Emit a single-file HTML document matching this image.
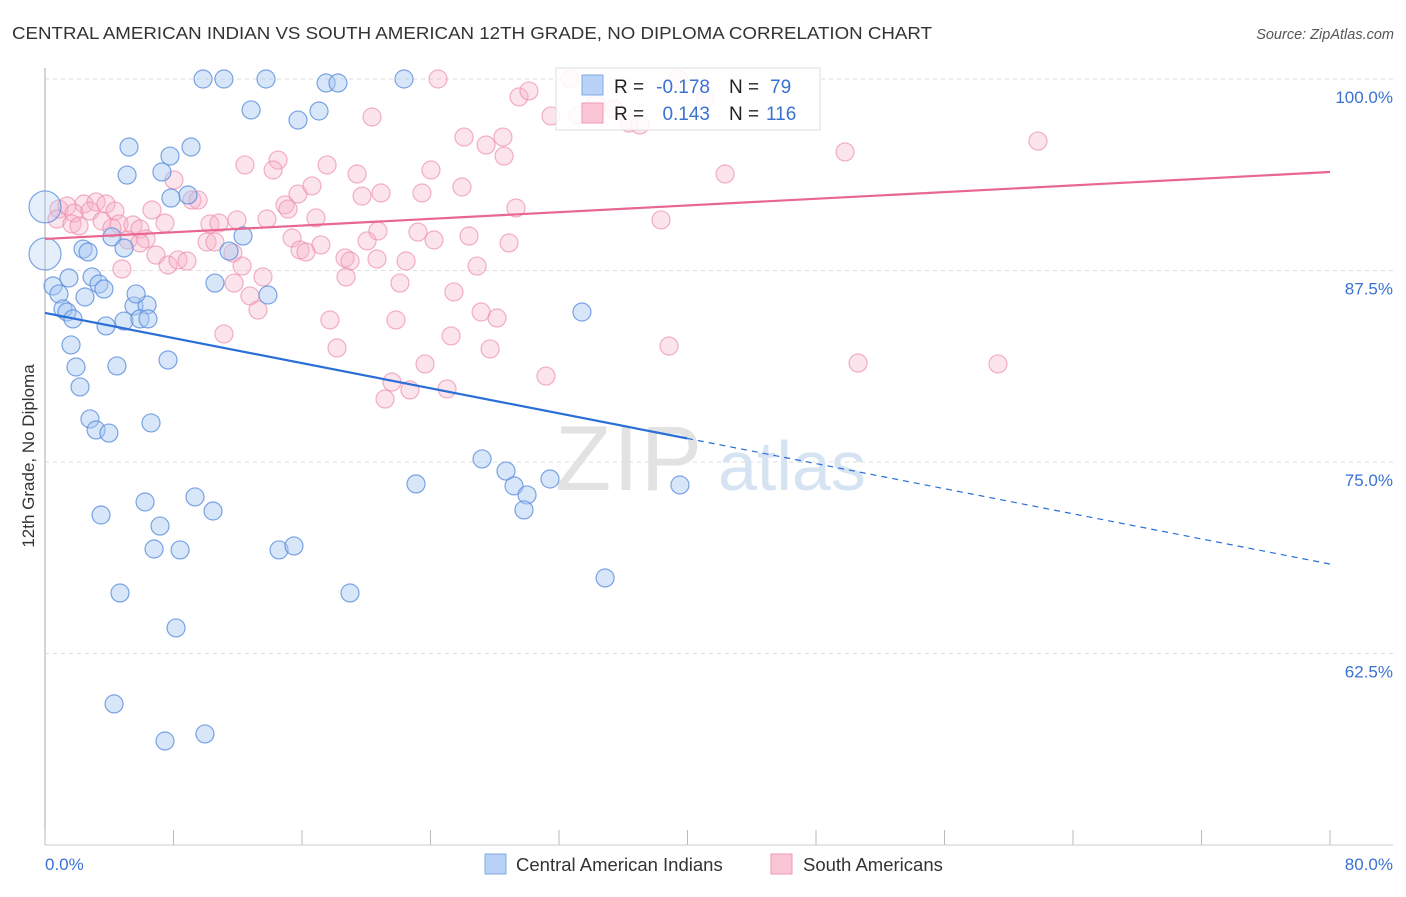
<!DOCTYPE html>
<html><head><meta charset="utf-8"><style>
body{margin:0;background:#fff;font-family:"Liberation Sans",sans-serif}
svg text{font-family:"Liberation Sans",sans-serif}
</style></head><body>
<svg id="chart" width="1406" height="892" xmlns="http://www.w3.org/2000/svg">
<text x="12" y="39" font-size="17.5" fill="#333" textLength="920" lengthAdjust="spacingAndGlyphs">CENTRAL AMERICAN INDIAN VS SOUTH AMERICAN 12TH GRADE, NO DIPLOMA CORRELATION CHART</text>
<text x="1394" y="39" font-size="14.5" fill="#555" text-anchor="end" font-style="italic">Source: ZipAtlas.com</text>
<text transform="translate(34,456) rotate(-90)" font-size="17" fill="#333" text-anchor="middle">12th Grade, No Diploma</text>
<g id="grid"></g>
<g>
<text x="555" y="490" font-size="92" fill="#e2e2e2" font-family="Liberation Serif" letter-spacing="2">ZIP</text>
<text x="718" y="490" font-size="70" fill="#d6e3f3">atlas</text>
</g>
<g id="pts"></g>
<g id="trend"></g>
<g>
<rect x="556" y="68" width="264" height="62" fill="#fff" fill-opacity="0.85" stroke="#ddd"/>
<rect x="582" y="75" width="21" height="20" fill="#b9d3f7" stroke="#7fa9e6"/>
<rect x="582" y="103" width="21" height="20" fill="#fac5d5" stroke="#ee9ab5"/>
<text x="614" y="93" font-size="19" fill="#222">R =</text>
<text x="710" y="93" font-size="19" fill="#3a72d2" text-anchor="end">-0.178</text>
<text x="729" y="93" font-size="19" fill="#222">N =</text>
<text x="770" y="93" font-size="19" fill="#3a72d2">79</text>
<text x="614" y="120" font-size="19" fill="#222">R =</text>
<text x="710" y="120" font-size="19" fill="#3a72d2" text-anchor="end">0.143</text>
<text x="729" y="120" font-size="19" fill="#222">N =</text>
<text x="766" y="120" font-size="19" fill="#3a72d2">116</text>
</g>
<g>
<rect x="485" y="854" width="21" height="20" fill="#b9d3f7" stroke="#7fa9e6"/>
<text x="516" y="871" font-size="18.5" fill="#333">Central American Indians</text>
<rect x="771" y="854" width="21" height="20" fill="#fac5d5" stroke="#ee9ab5"/>
<text x="803" y="871" font-size="18.5" fill="#333">South Americans</text>
</g>
</svg>
<script>
const xTickLabels=["0.0%","80.0%"];
const yTicks=[100,87.5,75,62.5];
const yTickLabels=["100.0%","87.5%","75.0%","62.5%"];
const blueX=[9.84,11.14,13.76,17.5,18.24,22.35,12.83,15.75,17.06,5.23,9.09,7.78,5.11,7.28,8.9,7.84,0,0,12.33,4.17,4.92,2.37,2.68,11.46,0.5,1.49,2.93,3.36,0.87,3.67,10.58,13.88,2.49,5.54,6.35,5.67,1.12,1.37,1.74,4.92,5.91,6.41,3.8,1.62,1.93,4.48,7.66,2.18,33.43,2.8,3.18,3.98,6.6,27.21,28.7,23.1,29.2,30.01,31.44,39.53,29.82,6.23,9.34,3.49,10.46,7.16,6.79,8.41,14.57,15.5,34.87,4.67,18.99,8.16,4.3,7.47,9.96];
const blueY=[100,100,100,99.74,99.74,100,97.98,97.32,97.91,95.56,95.56,94.97,93.73,93.93,92.43,92.23,91.65,88.58,89.75,89.69,88.97,88.9,88.71,88.77,86.49,87.01,87.08,86.62,85.97,86.29,86.68,85.9,85.77,85.18,85.25,85.97,84.99,84.79,84.34,84.2,84.34,84.34,83.88,82.64,81.2,81.27,81.66,79.9,84.79,77.81,77.09,76.89,77.55,75.2,74.41,73.57,73.44,72.85,73.89,73.5,71.87,72.39,72.72,71.54,71.8,70.82,69.32,69.26,69.26,69.52,67.43,66.45,66.45,64.17,59.21,56.79,57.25];
const blueBig=[16,17];
const pinkX=[24.47,32.69,39.41,20.36,29.51,30.13,31.5,33.18,34.31,35.43,41.09,36.36,37.04,26.09,28.51,27.46,28.58,12.45,14.51,14.2,17.56,19.43,24.03,25.96,42.34,49.81,61.82,8.03,9.15,9.53,15.75,16.62,19.74,20.92,23.47,29.32,38.35,0.87,1.37,2.43,3.18,3.8,1.81,2.8,4.36,3.55,6.66,4.61,5.48,5.91,7.47,10.27,10.83,11.95,13.82,14.94,15.13,16.87,0.75,1.68,2.12,4.17,5.17,6.29,6.91,7.66,8.28,8.84,10.09,10.58,11.7,12.27,15.38,15.88,16.25,17.18,18.68,18.99,20.05,20.73,23.22,24.22,26.4,28.89,20.67,22.48,26.9,4.79,5.91,11.77,13.57,12.76,13.26,18.74,22.1,25.46,17.74,21.85,27.15,28.14,11.14,18.18,25.28,27.71,38.85,23.66,21.6,22.72,21.17,31.19,25.03,50.62,59.33];
const pinkY=[100,100,100,97.52,98.83,99.22,97.59,97.65,98.37,98.04,98.69,97.13,97,96.21,96.21,95.69,94.97,94.39,94.71,94.06,94.39,93.8,94.06,92.95,93.8,95.24,95.95,93.41,92.1,92.1,92.49,93.02,92.36,92.56,92.56,91.58,90.8,91.51,91.71,91.84,91.97,91.84,91.25,91.38,91.38,90.73,91.45,90.54,90.47,90.21,90.6,90.54,90.6,90.8,90.86,91.78,91.51,90.93,90.86,90.54,90.41,90.27,89.49,89.56,88.51,87.86,88.19,88.12,89.36,89.36,88.64,87.79,89.62,88.84,88.71,89.17,88.32,88.12,89.43,90.08,90.01,89.49,89.75,89.3,88.25,88.12,87.79,87.6,89.3,86.68,87.08,85.84,84.92,87.08,86.68,86.1,84.27,84.27,84.79,84.4,83.36,82.44,83.23,82.38,82.57,81.4,80.22,79.7,79.11,80.61,79.77,81.46,81.4];
const blueTrend=[84.73,68.34];
const pinkTrend=[89.56,93.93];
const blueSolidEnd=39.97;
const X=v=>45+v/80*1285, Y=v=>79+(100-v)/12.5*191.5;
const NS="http://www.w3.org/2000/svg";
function mk(tag,attrs,parent){const e=document.createElementNS(NS,tag);for(const k in attrs)e.setAttribute(k,attrs[k]);parent.appendChild(e);return e;}
const grid=document.getElementById('grid');
yTicks.forEach((t,i)=>{
 const l=mk('line',{x1:45,x2:1393,y1:Y(t),y2:Y(t),stroke:'#ddd','stroke-dasharray':'4,4'},grid);
 
 
 const tx=mk('text',{x:1393,y:Y(t)+24,'font-size':17,fill:'#3a72d2','text-anchor':'end'},grid);
 tx.textContent=yTickLabels[i];
 
 
});
const ax=mk('line',{x1:45,x2:1393,y1:845,y2:845,stroke:'#ccc'},grid);


const ay=mk('line',{x1:45,x2:45,y1:68,y2:845,stroke:'#aaa'},grid);


for(let i=0;i<=10;i++){
 const t=mk('line',{x1:X(i*8),x2:X(i*8),y1:830,y2:845,stroke:'#bbb'},grid);
 
 
}
[[0,'start',45],[80,'end',1393]].forEach((d,i)=>{
 const tx=mk('text',{x:d[2],y:870,'font-size':17,fill:'#3a72d2','text-anchor':d[1]},grid);
 tx.textContent=xTickLabels[i];
 
 
});
const pts=document.getElementById('pts');
pinkX.forEach((x,i)=>{
 const c=mk('circle',{cx:X(x),cy:Y(pinkY[i]),r:9,fill:'#f7b3c8','fill-opacity':0.35,stroke:'#ec8fae','stroke-opacity':0.7,'stroke-width':1.2},pts);
 
 
});
blueX.forEach((x,i)=>{
 const big=blueBig.includes(i);
 const c=mk('circle',{cx:X(x),cy:Y(blueY[i]),r:big?16:9,fill:'#a9c8f2','fill-opacity':big?0.3:0.45,stroke:'#5b8fdc','stroke-opacity':0.8,'stroke-width':1.2},pts);
 
 
});
const tr=document.getElementById('trend');
const bAt=x=>blueTrend[0]+(blueTrend[1]-blueTrend[0])*x/80;
const b1=mk('line',{x1:X(0),y1:Y(bAt(0)),x2:X(blueSolidEnd),y2:Y(bAt(blueSolidEnd)),stroke:'#2a6fd6','stroke-width':2.2},tr);


const b2=mk('line',{x1:X(blueSolidEnd),y1:Y(bAt(blueSolidEnd)),x2:X(80),y2:Y(bAt(80)),stroke:'#2a6fd6','stroke-width':1.2,'stroke-dasharray':'6,5'},tr);


const p1=mk('line',{x1:X(0),y1:Y(pinkTrend[0]),x2:X(80),y2:Y(pinkTrend[1]),stroke:'#e8668f','stroke-width':2.2},tr);


</script>
</body></html>
